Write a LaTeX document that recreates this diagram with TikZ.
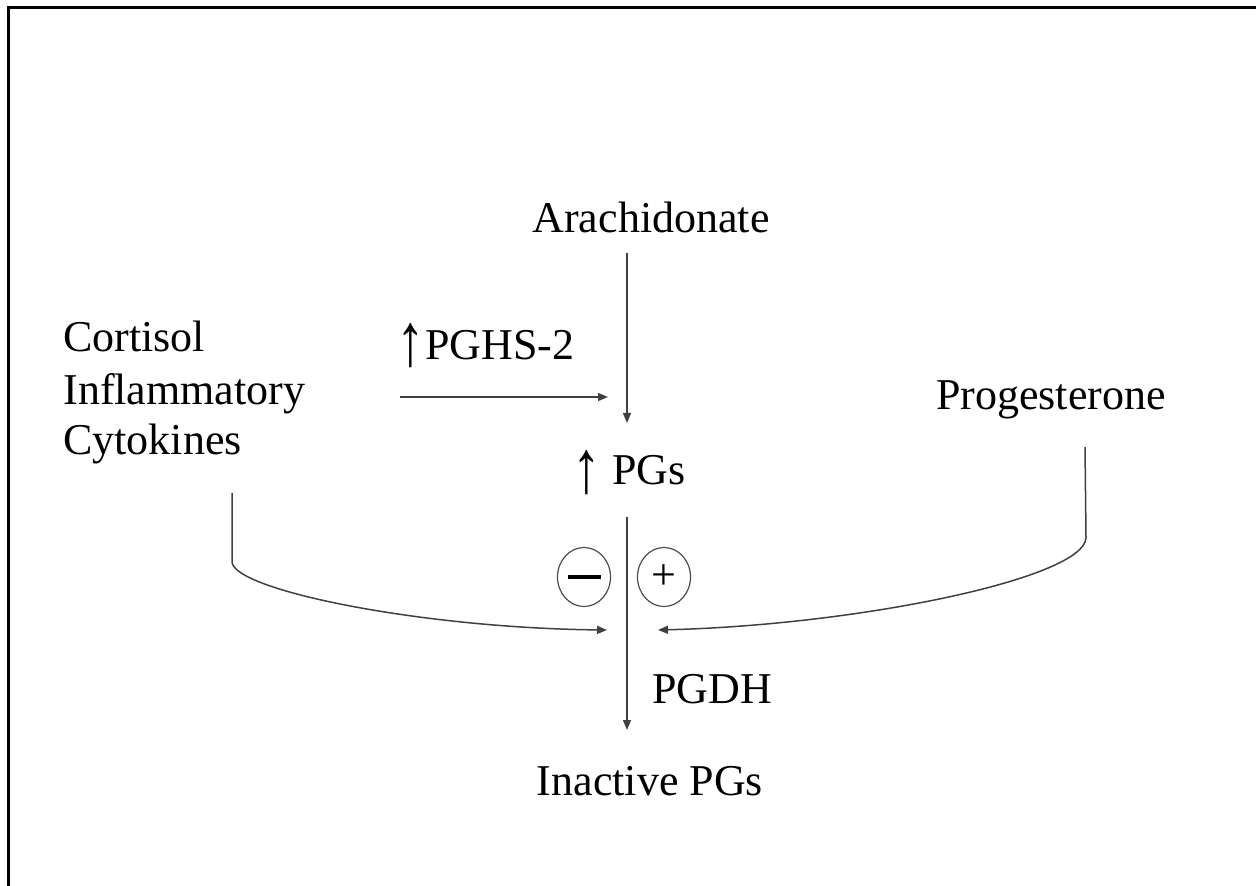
\documentclass[tikz,border=0pt]{standalone}
\usepackage{fontspec}
\usepackage{graphicx}
\setmainfont{Liberation Serif}
\usetikzlibrary{arrows.meta,shapes.geometric}

% tall up arrow as in the source slide
\newcommand{\tallup}[1]{\raisebox{#1}{\scalebox{1.3}[1.7]{↑}}}

\tikzset{
  label/.style={inner sep=0pt, font=\fontsize{22}{25.5}\selectfont},
  arr/.style={draw=black!75, line width=0.75pt, -{Triangle[length=5pt,width=4pt]}},
  sign/.style={draw=black!70, line width=0.6pt, ellipse, inner sep=0pt,
               minimum width=26.5pt, minimum height=29.5pt}
}

\begin{document}
\begin{tikzpicture}[x=0.5pt, y=-0.5pt]
        % page and frame (only top and left edges show)
        \useasboundingbox (0,0) rectangle (1256,886);
        \draw[line width=1.5pt] (8,886) -- (8,8) -- (1256,8);

        % Labels
        \node[label, anchor=base] (arach) at (651,233) {Arachidonate};
        \node[label, anchor=base west] (pghs) at (396,360) {\tallup{-3pt}PGHS-2};
        \node[label, anchor=base west] (pgs) at (572,485) {\tallup{-4pt} PGs};
        \node[label, anchor=base west] (pgdh) at (652,703) {PGDH};
        \node[label, anchor=base] (inact) at (650,795) {Inactive PGs};
        \node[label, anchor=base] (prog) at (1051,410) {Progesterone};
        \node[label, anchor=base west] (cort) at (63,352) {Cortisol};
        \node[label, anchor=base west] (inflam) at (63,405) {Inflammatory};
        \node[label, anchor=base west] (cytok) at (63,455) {Cytokines};

        % Inhibition and stimulation signs
        \node[sign] (minus) at (584,577) {\rule{16.5pt}{2.2pt}};
        \node[sign, label] (plus) at (664,577) {+};

        % Arrow ends on the PG axis
        \coordinate (pgstop) at (627,423);
        \coordinate (enzin) at (608,397);
        \coordinate (degtip) at (627,730);
        \coordinate (inhib) at (607,630);
        \coordinate (stim) at (658,630);
        \coordinate (lfrom) at (232,493);
        \coordinate (rfrom) at (1085,447);

        % Synthesis and breakdown
        \draw[arr] (arach.south -| pgstop) ++(0,19) -- (pgstop);
        \draw[arr] (enzin -| pghs.west) ++(4,0) -- (enzin);
        \draw[arr] (pgstop |- inact.north) ++(0,-248) -- (degtip);

        % Regulators of PGDH
        \draw[arr] (lfrom) -- (232,562) .. controls (234,590) and (420,628) .. (inhib);
        \draw[arr] (rfrom) -- (1086,538) .. controls (1084,578) and (860,625) .. (stim);
\end{tikzpicture}
\end{document}
